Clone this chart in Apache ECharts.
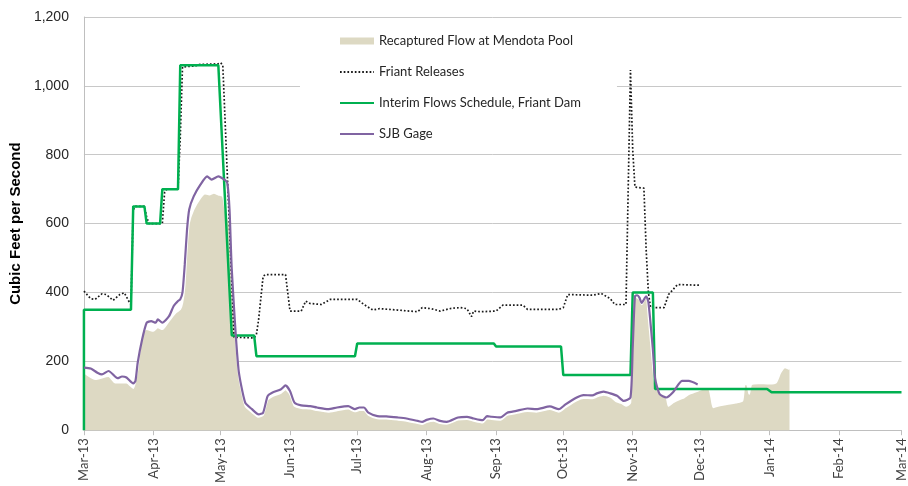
<!DOCTYPE html>
<html><head><meta charset="utf-8">
<script src="https://cdn.jsdelivr.net/npm/echarts@6/dist/echarts.min.js"></script>
<style>html,body{margin:0;padding:0;background:#fff}#c{width:908px;height:486px}</style>
</head><body><div id="c"></div>
<script>
const seriesNames = ['Recaptured Flow at Mendota Pool', 'Friant Releases', 'Interim Flows Schedule, Friant Dam', 'SJB Gage'];
const monthNames = ['Jan','Feb','Mar','Apr','May','Jun','Jul','Aug','Sep','Oct','Nov','Dec'];
const yTicks = [0, 200, 400, 600, 800, 1000, 1200];

const recapDates = ['2013-03-01','2013-03-06','2013-03-12','2013-03-15','2013-03-20','2013-03-23','2013-03-25','2013-03-27','2013-03-29','2013-04-01','2013-04-03','2013-04-05','2013-04-08','2013-04-11','2013-04-13','2013-04-14','2013-04-15','2013-04-16','2013-04-17','2013-04-19','2013-04-22','2013-04-24','2013-04-26','2013-04-28','2013-04-30','2013-05-02','2013-05-03','2013-05-05','2013-05-06','2013-05-09','2013-05-12','2013-05-15','2013-05-18','2013-05-20','2013-05-22','2013-05-24','2013-05-28','2013-05-30','2013-06-01','2013-06-03','2013-06-06','2013-06-10','2013-06-13','2013-06-18','2013-06-22','2013-06-27','2013-06-30','2013-07-02','2013-07-04','2013-07-06','2013-07-10','2013-07-14','2013-07-19','2013-07-23','2013-07-28','2013-07-30','2013-08-01','2013-08-04','2013-08-07','2013-08-10','2013-08-15','2013-08-19','2013-08-22','2013-08-26','2013-08-28','2013-08-30','2013-09-03','2013-09-06','2013-09-10','2013-09-15','2013-09-19','2013-09-25','2013-09-29','2013-10-02','2013-10-07','2013-10-10','2013-10-14','2013-10-16','2013-10-19','2013-10-22','2013-10-25','2013-10-27','2013-10-29','2013-10-31','2013-11-01','2013-11-02','2013-11-04','2013-11-05','2013-11-07','2013-11-08','2013-11-10','2013-11-11','2013-11-13','2013-11-16','2013-11-17','2013-11-19','2013-11-22','2013-11-24','2013-11-26','2013-11-28','2013-11-30','2013-12-03','2013-12-05','2013-12-06','2013-12-07','2013-12-10','2013-12-13','2013-12-17','2013-12-20','2013-12-21','2013-12-22','2013-12-23','2013-12-24','2013-12-27','2014-01-01','2014-01-04','2014-01-06','2014-01-08','2014-01-10'];
const recapValues = [167,148,157,138,138,122,177,283,293,288,298,293,317,341,351,370,420,530,602,641,674,687,684,689,684,679,641,600,440,165,70,52,38,44,88,98,108,118,104,70,64,62,58,53,57,62,54,58,58,44,34,33,30,27,20,17,23,27,20,18,30,32,27,22,33,32,30,44,49,55,53,61,53,66,86,93,92,97,102,97,82,78,70,80,331,389,380,365,389,330,186,130,109,95,70,80,90,95,104,109,114,121,120,95,66,72,75,80,85,133,133,105,133,136,135,138,167,182,177];

const friantDates = ['2013-03-01','2013-03-04','2013-03-06','2013-03-09','2013-03-11','2013-03-14','2013-03-17','2013-03-19','2013-03-21','2013-03-22','2013-03-23','2013-03-24','2013-03-28','2013-03-29','2013-03-30','2013-04-05','2013-04-06','2013-04-07','2013-04-12','2013-04-13','2013-04-14','2013-04-20','2013-04-21','2013-04-30','2013-05-01','2013-05-02','2013-05-07','2013-05-16','2013-05-17','2013-05-18','2013-05-20','2013-05-21','2013-05-30','2013-06-01','2013-06-06','2013-06-08','2013-06-10','2013-06-15','2013-06-19','2013-07-01','2013-07-04','2013-07-08','2013-07-11','2013-07-19','2013-07-28','2013-07-30','2013-08-03','2013-08-07','2013-08-12','2013-08-16','2013-08-19','2013-08-21','2013-08-22','2013-08-25','2013-09-01','2013-09-04','2013-09-13','2013-09-15','2013-09-29','2013-10-01','2013-10-03','2013-10-14','2013-10-18','2013-10-22','2013-10-24','2013-10-29','2013-10-31','2013-11-01','2013-11-02','2013-11-06','2013-11-07','2013-11-08','2013-11-09','2013-11-15','2013-11-17','2013-11-21','2013-12-01'];
const friantValues = [404,382,380,396,394,377,394,399,375,365,640,650,650,620,600,600,690,700,700,850,1055,1058,1062,1064,1067,1060,270,268,278,322,447,452,452,346,346,375,368,365,380,380,365,349,353,349,344,356,353,346,354,356,353,330,346,344,346,363,363,351,351,356,394,392,397,382,365,365,1046,814,706,703,525,399,356,356,394,423,421];

const scheduleDates = ['2013-03-01','2013-03-01','2013-03-22','2013-03-23','2013-03-28','2013-03-29','2013-04-04','2013-04-05','2013-04-12','2013-04-13','2013-04-30','2013-05-06','2013-05-16','2013-05-17','2013-06-30','2013-07-01','2013-08-31','2013-09-01','2013-09-30','2013-10-01','2013-10-31','2013-11-01','2013-11-10','2013-11-11','2013-12-31','2014-01-02','2014-03-01'];
const scheduleValues = [0,350,350,650,650,600,600,700,700,1060,1060,275,275,215,215,252,252,243,243,160,160,400,400,120,120,110,110];

const sjbDates = ['2013-03-01','2013-03-04','2013-03-07','2013-03-09','2013-03-12','2013-03-16','2013-03-18','2013-03-20','2013-03-23','2013-03-24','2013-03-25','2013-03-27','2013-03-29','2013-03-31','2013-04-02','2013-04-03','2013-04-05','2013-04-08','2013-04-10','2013-04-12','2013-04-13','2013-04-14','2013-04-15','2013-04-16','2013-04-17','2013-04-19','2013-04-22','2013-04-25','2013-04-27','2013-04-30','2013-05-03','2013-05-04','2013-05-05','2013-05-06','2013-05-09','2013-05-12','2013-05-15','2013-05-18','2013-05-20','2013-05-22','2013-05-24','2013-05-28','2013-05-30','2013-06-01','2013-06-03','2013-06-06','2013-06-10','2013-06-13','2013-06-18','2013-06-22','2013-06-27','2013-06-30','2013-07-02','2013-07-04','2013-07-06','2013-07-10','2013-07-14','2013-07-19','2013-07-23','2013-07-28','2013-07-30','2013-08-01','2013-08-04','2013-08-07','2013-08-10','2013-08-15','2013-08-19','2013-08-22','2013-08-26','2013-08-28','2013-08-30','2013-09-03','2013-09-06','2013-09-10','2013-09-15','2013-09-19','2013-09-25','2013-09-29','2013-10-02','2013-10-07','2013-10-10','2013-10-14','2013-10-16','2013-10-19','2013-10-22','2013-10-25','2013-10-28','2013-10-31','2013-11-01','2013-11-02','2013-11-03','2013-11-04','2013-11-05','2013-11-07','2013-11-08','2013-11-10','2013-11-11','2013-11-13','2013-11-16','2013-11-19','2013-11-23','2013-11-26','2013-11-30'];
const sjbValues = [182,179,167,162,172,151,156,153,136,143,196,264,312,317,312,322,312,331,360,375,380,400,480,580,641,679,713,737,728,737,726,718,641,467,177,80,61,46,51,99,109,119,130,114,80,72,70,66,61,66,70,61,66,66,51,41,40,37,34,27,24,30,34,27,24,37,39,34,29,41,39,37,51,56,63,61,69,61,75,95,102,101,107,112,107,100,85,95,240,389,392,385,370,389,372,235,150,105,95,110,143,143,133];

function pairs(d, v) { return d.map((x, i) => [x, v[i]]); }

const hiddenSymbol = { opacity: 0 };
const chart = echarts.init(document.getElementById('c'));
chart.setOption({
  animation: false,
  backgroundColor: '#fff',
  grid: { left: 82, right: 5, top: 17, bottom: 55, containLabel: false },
  legend: {
    orient: 'vertical', left: 300, top: 22,
    padding: [12, 36, 8, 39],
    backgroundColor: '#fff',
    itemWidth: 34, itemHeight: 7, itemGap: 17,
    textStyle: { fontFamily: 'Lato', fontSize: 13, color: '#262626', lineHeight: 14 },
    data: [
      { name: seriesNames[0], icon: 'rect', itemStyle: { color: '#DDD9C3', borderWidth: 0 } },
      { name: seriesNames[1], itemStyle: hiddenSymbol },
      { name: seriesNames[2], itemStyle: hiddenSymbol },
      { name: seriesNames[3], itemStyle: hiddenSymbol }
    ]
  },
  xAxis: {
    type: 'time',
    min: '2013-03-01', max: '2014-03-01',
    splitNumber: 12,
    minInterval: 28 * 86400000, maxInterval: 31 * 86400000,
    axisLine: { lineStyle: { color: '#bfbfbf' } },
    axisTick: { show: true, length: 5, lineStyle: { color: '#bfbfbf' } },
    splitLine: { show: false },
    axisLabel: {
      rotate: 90, margin: 8, fontFamily: 'Lato', fontSize: 13, color: '#404040',
      showMinLabel: true, showMaxLabel: true, hideOverlap: false,
      formatter: function (v) { const d = new Date(v); return monthNames[d.getMonth()] + '-' + String(d.getFullYear()).slice(2); }
    }
  },
  yAxis: {
    type: 'value', min: yTicks[0], max: yTicks[yTicks.length - 1], interval: 200,
    name: 'Cubic Feet per Second', nameLocation: 'middle', nameGap: 58,
    nameTextStyle: { fontFamily: 'Liberation Sans', fontWeight: 'bold', fontSize: 15, color: '#000' },
    axisLine: { show: true, lineStyle: { color: '#bfbfbf' } },
    axisTick: { show: false },
    splitLine: { lineStyle: { color: '#c8c8c8', width: 1 } },
    axisLabel: {
      margin: 15, fontFamily: 'Liberation Sans', fontSize: 14, color: '#262626',
      formatter: v => v.toLocaleString('en-US')
    }
  },
  series: [
    { name: seriesNames[0], type: 'line', data: pairs(recapDates, recapValues), symbol: 'none', smooth: 0.2,
      color: '#DDD9C3', itemStyle: { color: '#DDD9C3' },
      lineStyle: { color: '#ffffff', width: 1.5 }, areaStyle: { color: '#DDD9C3', opacity: 1 }, z: 1 },
    { name: seriesNames[1], type: 'line', data: pairs(friantDates, friantValues), symbol: 'none',
      color: '#1a1a1a', lineStyle: { color: '#1a1a1a', width: 1.7, type: [1.7, 2] }, z: 2 },
    { name: seriesNames[2], type: 'line', data: pairs(scheduleDates, scheduleValues), symbol: 'none',
      color: '#00B050', lineStyle: { color: '#00B050', width: 2.5 }, z: 3 },
    { name: seriesNames[3], type: 'line', data: pairs(sjbDates, sjbValues), symbol: 'none', smooth: 0.2,
      color: '#8064A2', lineStyle: { color: '#8064A2', width: 2.2 }, z: 4 }
  ]
});
</script>
</body></html>
